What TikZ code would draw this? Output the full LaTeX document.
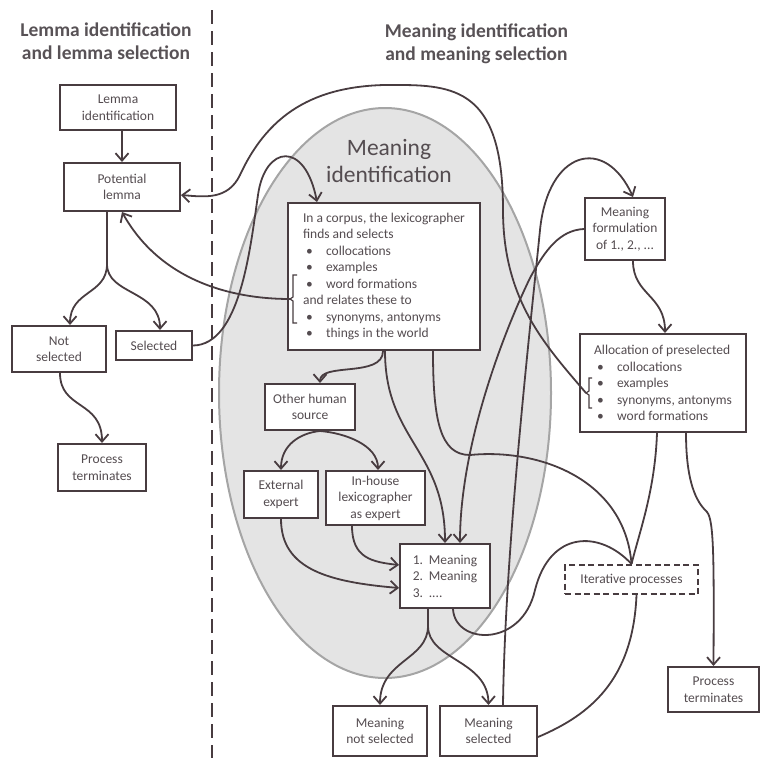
\documentclass[tikz,border=0pt]{standalone}
\usepackage{fontspec}
\setmainfont{Carlito}
\usepackage{xcolor}
\usepackage{tikz}
\usetikzlibrary{arrows.meta, calc}
\definecolor{linecolor}{RGB}{72,60,64}
\definecolor{labelcolor}{RGB}{84,76,80}
\definecolor{headcolor}{RGB}{88,82,86}
\definecolor{zonecolor}{RGB}{228,228,228}
\definecolor{zoneborder}{RGB}{165,165,165}
\newcommand{\bitem}[1]{\hspace*{3pt}\makebox[20pt][l]{\textbullet}#1}
\newcommand{\nitem}[2]{\makebox[16pt][l]{#1}#2}

\begin{document}
\begin{tikzpicture}[
    x=1pt, y=-1pt,
    stage/.style={draw=linecolor, line width=2pt, fill=white, text=labelcolor, align=center, inner sep=2pt, font=\fontsize{13.5}{16.5}\selectfont},
    liststage/.style={stage, align=left},
    loopstage/.style={stage, dash pattern=on 6pt off 3.5pt},
    heading/.style={text=headcolor, align=center, font=\fontsize{19.5}{22.5}\selectfont\bfseries},
    zone/.style={fill=zonecolor, draw=zoneborder, line width=2pt},
    flow/.style={-{Straight Barb[length=7.5pt,width=13pt]}, line width=1.8pt, linecolor},
    link/.style={line width=1.8pt, linecolor},
    divider/.style={line width=2pt, linecolor, dash pattern=on 14pt off 7pt}
]
    \useasboundingbox (0,0) rectangle (768,758);

    % Headings and regions
    \draw[divider] (212,10) -- (212,758);
    \node[heading] (lefthead) at (106,41) {Lemma identification\\and lemma selection};
    \node[heading] (righthead) at (476.5,44) {Meaning identification\\and meaning selection};
    \draw[zone] (385,393) ellipse [x radius=166, y radius=285];
    \node[text=labelcolor, align=center, font=\fontsize{23.5}{27}\selectfont] (zonelabel) at (389,161) {Meaning\\identification};

    % Lemma side
    \node[stage, minimum width=116pt, minimum height=45pt] (lemmaid) at (118,107.5) {Lemma\\identification};
    \node[stage, minimum width=116pt, minimum height=48pt] (potlemma) at (122,187) {Potential\\lemma};
    \node[stage, minimum width=94pt, minimum height=46pt] (notsel) at (59,349) {Not\\selected};
    \node[stage, minimum width=76pt, minimum height=29pt] (sel) at (154,345.5) {Selected};
    \node[stage, minimum width=88pt, minimum height=47pt] (endleft) at (102,467.5) {Process\\terminates};

    % Meaning side
    \node[liststage, minimum width=192pt, minimum height=147pt] (corpus) at (384,276.5) {In a corpus, the lexicographer\\finds and selects\\\bitem{collocations}\\\bitem{examples}\\\bitem{word formations}\\and relates these to\\\bitem{synonyms, antonyms}\\\bitem{things in the world}};
    \node[stage, minimum width=90pt, minimum height=46pt] (othersrc) at (310,407) {Other human\\source};
    \node[stage, minimum width=74pt, minimum height=47pt] (extexpert) at (281,494.5) {External\\expert};
    \node[stage, minimum width=99pt, minimum height=54pt] (inhouse) at (375.5,498) {In-house\\lexicographer\\as expert};
    \node[liststage, minimum width=90pt, minimum height=64pt] (meanlist) at (445,576) {\nitem{1.}{Meaning}\\\nitem{2.}{Meaning}\\\nitem{3.}{....}};
    \node[stage, minimum width=94pt, minimum height=50pt] (meannotsel) at (380,731) {Meaning\\not selected};
    \node[stage, minimum width=97pt, minimum height=50pt] (meansel) at (488.5,731) {Meaning\\selected};
    \node[stage, minimum width=80pt, minimum height=62pt] (meanform) at (625,229) {Meaning\\formulation\\of 1., 2., ...};
    \node[liststage, minimum width=166pt, minimum height=98pt] (alloc) at (663,383) {Allocation of preselected\\\bitem{collocations}\\\bitem{examples}\\\bitem{synonyms, antonyms}\\\bitem{word formations}};
    \node[loopstage, minimum width=133pt, minimum height=29pt] (iterproc) at (631.5,579.5) {Iterative processes};
    \node[stage, minimum width=91pt, minimum height=45pt] (endright) at (713.5,689.5) {Process\\terminates};

    % Brackets
    \draw[link, line width=1.2pt] ($(corpus.west)+(10,-1.5)$) -- ++(-4,0) -- ++(0,22) -- ++(-3,2) -- ++(3,2) -- ++(0,22) -- ++(4,0);
    \coordinate (corpusbr) at ($(corpus.west)+(3,22.5)$);
    \draw[link, line width=1.2pt] ($(alloc.west)+(13,-5)$) -- ++(-3,0) -- ++(0,13) -- ++(-3,2) -- ++(3,2) -- ++(0,13) -- ++(3,0);
    \coordinate (allocbr) at ($(alloc.west)+(7,10)$);

    % Flows on the lemma side
    \draw[flow] (lemmaid.south -| potlemma.north) -- (potlemma.north);
    \coordinate (lemmasplit) at ($(potlemma.south)+(-15,52)$);
    \draw[link] ($(potlemma.south)+(-15,0)$) -- (lemmasplit);
    \draw[flow] (lemmasplit) .. controls (107,295) and (70,290) .. ($(notsel.north)+(11,0)$);
    \draw[flow] (lemmasplit) .. controls (107,295) and (160,290) .. ($(sel.north)+(6,0)$);
    \draw[flow] ($(notsel.south)+(1,0)$) .. controls (60,410) and (102,400) .. (endleft.north);
    \draw[flow] (sel.east) .. controls (240,345) and (250,250) .. (258,195) .. controls (265,145) and (305,140) .. ($(corpus.north west)+(30,0)$);
    \draw[flow] (corpusbr) .. controls (230,299) and (160,280) .. (potlemma.south);
    \draw[flow] (allocbr) .. controls (545,345) and (503,300) .. (503,210) .. controls (503,95) and (460,85) .. (400,85) .. controls (320,83) and (270,110) .. (240,175) .. controls (228,200) and (205,197) .. ($(potlemma.east)+(0,8)$);

    % Flows on the meaning side
    \draw[flow] ($(corpus.south)+(-1,0)$) .. controls (383,378) and (320,362) .. ($(othersrc.north)+(10,0)$);
    \draw[flow] ($(corpus.south)+(1,0)$) .. controls (385,440) and (445,450) .. (meanlist.north);
    \draw[link] ($(corpus.south)+(49,0)$) .. controls (433,420) and (440,455) .. (470,455) .. controls (540,448) and (625,480) .. (iterproc.north);
    \coordinate (humansplit) at ($(othersrc.south)+(10,0)$);
    \draw[flow] (humansplit) .. controls (300,433) and (281,445) .. (extexpert.north);
    \draw[flow] (humansplit) .. controls (345,433) and (378,445) .. ($(inhouse.north)+(2.5,0)$);
    \draw[flow] (extexpert.south) .. controls (281,570) and (330,582) .. ($(meanlist.west)+(0,12)$);
    \draw[flow] ($(inhouse.south)+(-23.5,0)$) .. controls (352,558) and (372,562) .. ($(meanlist.west)+(0,-11)$);
    \coordinate (meansplit) at ($(meanlist.south)+(-17,17)$);
    \draw[link] ($(meanlist.south)+(-17,0)$) -- (meansplit);
    \draw[flow] (meansplit) .. controls (428,660) and (380,660) .. (meannotsel.north);
    \draw[flow] (meansplit) .. controls (428,660) and (488,660) .. (meansel.north);
    \draw[link] ($(meanlist.south)+(8,0)$) .. controls (455,645) and (522,648) .. (535,590) .. controls (550,530) and (600,530) .. (iterproc.north);
    \draw[flow] (meanform.west) .. controls (560,230) and (545,250) .. (530,278) .. controls (500,340) and (460,450) .. ($(meanlist.north)+(15,0)$);
    \draw[flow] ($(meansel.north)+(14.5,0)$) .. controls (505,550) and (530,330) .. (540,230) .. controls (548,150) and (605,135) .. ($(meanform.north)+(8,0)$);
    \draw[flow] ($(meanform.south)+(8,0)$) .. controls (633,295) and (665,295) .. ($(alloc.north)+(2,0)$);
    \draw[link] ($(alloc.south)+(-6,0)$) .. controls (655,490) and (640,530) .. (iterproc.north);
    \draw[flow] ($(alloc.south)+(23,0)$) .. controls (686,490) and (700,505) .. (707,512) .. controls (714,520) and (714,560) .. (endright.north);
    \draw[link] ($(iterproc.south)+(5,0)$) .. controls (633,680) and (590,715) .. ($(meansel.east)+(0,6)$);
\end{tikzpicture}
\end{document}
